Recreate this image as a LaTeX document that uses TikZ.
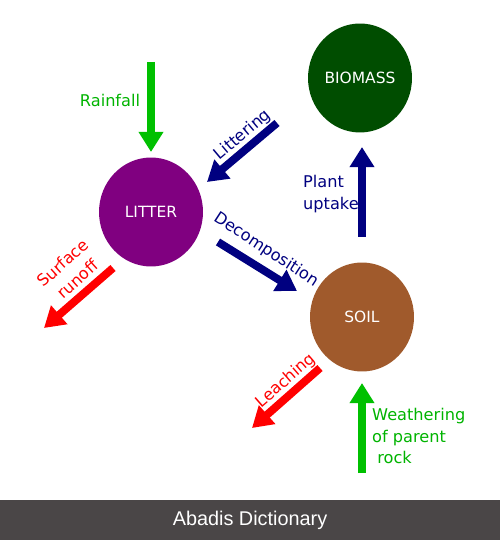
\documentclass[tikz,border=0pt]{standalone}
\usepackage{fontspec}
\setmainfont{DejaVu Sans}
\newfontfamily\barfont{Liberation Sans}
\usetikzlibrary{arrows.meta,shapes.geometric}
\definecolor{navyblue}{HTML}{000080}
\definecolor{rainGreen}{HTML}{00C000}
\definecolor{labelGreen}{HTML}{00B400}
\definecolor{bioGreen}{HTML}{004D00}
\definecolor{litterPurple}{HTML}{800080}
\definecolor{soilBrown}{HTML}{A05A2C}
\definecolor{barGray}{HTML}{4A4647}

\begin{document}
\begin{tikzpicture}[x=0.02cm,y=-0.02cm,
  pool/.style={ellipse,draw=none,inner sep=0pt,minimum width=2.08cm,minimum height=2.18cm,text=white,font=\fontsize{8.8}{10}\selectfont},
  flow/.style={line width=4.5pt,-{Triangle[length=11.5pt,width=13.5pt]}},
  lbl/.style={font=\fontsize{9.2}{12.5}\selectfont}]
  \useasboundingbox (0,0) rectangle (500,540);
  \fill[white] (0,0) rectangle (500,500);
  \fill[barGray] (0,500) rectangle (500,540);
  \node[text=white,font=\barfont\fontsize{11.3}{13}\selectfont] (credit) at (250,520) {Abadis Dictionary};

  % pools
  \node[pool,fill=bioGreen] (biomass) at (360,78) {BIOMASS};
  \node[pool,fill=litterPurple] (litter) at (151,212) {LITTER};
  \node[pool,fill=soilBrown] (soil) at (362,317) {SOIL};

  % arrow ends
  \coordinate (rainA) at (151,62);    \coordinate (rainB) at (151,152);
  \coordinate (litA) at (277,123);    \coordinate (litB) at (207,182);
  \coordinate (decA) at (218,242);    \coordinate (decB) at (297,291);
  \coordinate (uptA) at (362,237);    \coordinate (uptB) at (362,147);
  \coordinate (runA) at (113,268);    \coordinate (runB) at (44,328);
  \coordinate (leaA) at (320,368);    \coordinate (leaB) at (252,428);
  \coordinate (weaA) at (362,473);    \coordinate (weaB) at (362,383);

  \draw[flow,rainGreen] (rainA) -- (rainB);
  \draw[flow,navyblue] (litA) -- (litB);
  \draw[flow,navyblue] (decA) -- (decB);
  \draw[flow,navyblue] (uptA) -- (uptB);
  \draw[flow,red] (runA) -- (runB);
  \draw[flow,red] (leaA) -- (leaB);
  \draw[flow,rainGreen] (weaA) -- (weaB);

  % labels
  \node[lbl,text=labelGreen] (rainTxt) at (110,100) {Rainfall};
  \node[lbl,text=navyblue,rotate=40] (litTxt) at (243,135) {Littering};
  \node[lbl,text=navyblue,rotate=-33] (decTxt) at (266,250) {Decomposition};
  \node[lbl,text=navyblue,align=left,anchor=west] (uptTxt) at (297,194) {Plant\\uptake};
  \node[lbl,text=red,rotate=42,align=center] (runTxt) at (70,271) {Surface\\runoff};
  \node[lbl,text=red,rotate=41] (leaTxt) at (286,381) {Leaching};
  \node[lbl,text=labelGreen,align=left,anchor=west] (weaTxt) at (366,436) {Weathering\\of parent\\\ rock};
\end{tikzpicture}
\end{document}
